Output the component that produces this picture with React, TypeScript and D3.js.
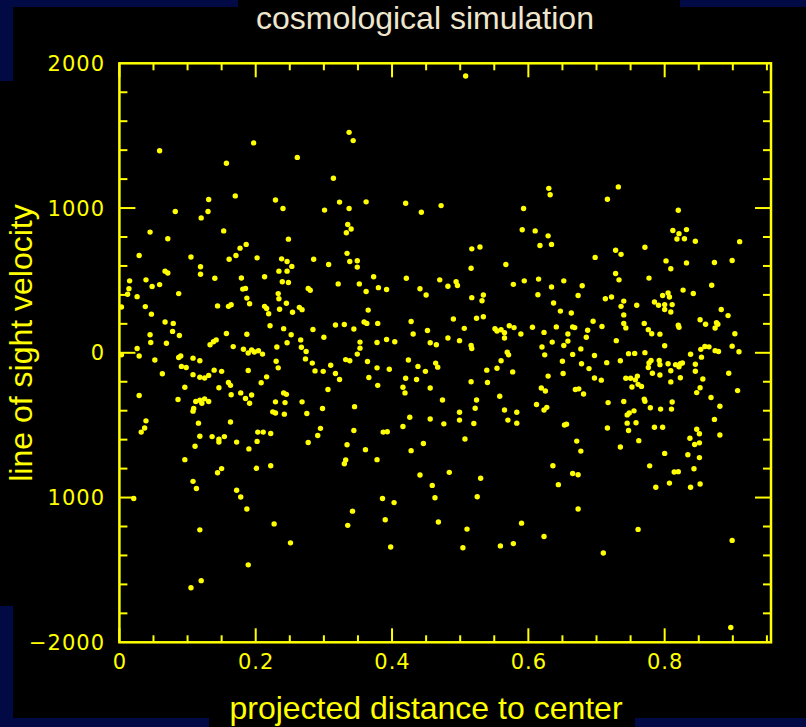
import React from "react";
import * as d3 from "d3";

// ---- data (projected distance, line-of-sight velocity) ----
const band1: [number, number][] = [
  [0.059,1396],[0.157,1309],[0.170,1084],[0.131,1059],[0.082,976],[0.130,976],[0.120,932],[0.045,834],[0.153,842],[0.071,788],
  [0.186,749],[0.177,723],[0.029,672],[0.105,662],[0.161,646],[0.171,672],[0.119,594],[0.067,564],[0.071,551],[0.119,543],
  [0.015,497],[0.039,504],[0.140,515],[0.179,517],[0.059,471],[0.048,458],[0.014,442],[0.181,440],[0.185,445],[0.012,404],
  [0.087,409],[0.026,388],[0.187,378],[0.003,316],[0.038,319],[0.144,324],[0.160,321],[0.164,332],[0.191,339],[0.047,267],
  [0.067,213],[0.079,203],[0.078,148],[0.045,125],[0.088,120],[0.157,133],[0.187,128],[0.046,71],[0.069,66],[0.133,56],
  [0.138,76],[0.142,89],[0.026,30],[0.167,43],[0.182,25],[0.189,-1],[0.003,-14],[0.029,-22],[0.087,-32],[0.090,-22],
  [0.108,-37],[0.118,-55],[0.052,-50],[0.091,-94],[0.098,-102],[0.063,-145],[0.108,-151],[0.118,-169],[0.125,-174],[0.131,-156],
  [0.139,-120],[0.150,-128],[0.189,-122],[0.160,-205],[0.163,-225],[0.146,-241],[0.096,-238],[0.029,-295],[0.086,-323],[0.164,-290],
  [0.178,-277],[0.185,-316],[0.191,-349],[0.112,-336],[0.118,-328],[0.125,-318],[0.121,-349],[0.131,-336],[0.109,-385],[0.108,-403],
  [0.039,-470],[0.037,-519],[0.032,-548],[0.116,-486],[0.163,-478],[0.118,-576],[0.136,-579],[0.146,-597],[0.154,-579],[0.146,-617],
  [0.172,-617],[0.190,-664],[0.111,-646],[0.096,-738],[0.150,-800],[0.144,-829],[0.108,-888],[0.113,-937],[0.172,-950],[0.178,-996],
  [0.021,-1007],[0.187,-1079],[0.118,-1223],[0.189,-1465],[0.120,-1574],[0.105,-1623],
];

const band2: [number, number][] = [
  [0.197,1450],[0.261,1350],[0.337,1523],[0.343,1466],[0.314,1206],[0.229,1056],[0.240,997],[0.323,1041],[0.362,1043],[0.301,986],
  [0.337,997],[0.335,886],[0.340,855],[0.333,829],[0.248,785],[0.202,656],[0.238,649],[0.246,631],[0.253,597],[0.285,646],
  [0.307,610],[0.334,687],[0.338,631],[0.349,636],[0.349,592],[0.213,525],[0.234,564],[0.246,564],[0.373,525],[0.239,491],
  [0.248,486],[0.321,476],[0.352,476],[0.277,445],[0.280,432],[0.362,424],[0.233,409],[0.380,450],[0.234,373],[0.245,342],
  [0.213,321],[0.216,306],[0.219,270],[0.235,301],[0.254,280],[0.264,314],[0.268,298],[0.365,295],[0.221,187],[0.241,167],
  [0.284,161],[0.317,192],[0.330,195],[0.344,164],[0.359,213],[0.363,203],[0.379,203],[0.252,125],[0.266,89],[0.300,107],
  [0.246,69],[0.353,74],[0.378,71],[0.231,40],[0.267,38],[0.274,9],[0.353,32],[0.194,20],[0.204,14],[0.210,-9],
  [0.198,6],[0.349,-9],[0.273,-42],[0.283,-71],[0.310,-86],[0.332,-47],[0.338,-55],[0.364,-60],[0.230,-58],[0.233,-104],
  [0.287,-125],[0.299,-128],[0.317,-143],[0.323,-184],[0.378,-104],[0.216,-166],[0.208,-207],[0.366,-171],[0.306,-254],[0.379,-225],
  [0.194,-292],[0.241,-277],[0.245,-287],[0.229,-339],[0.243,-344],[0.268,-339],[0.225,-408],[0.229,-416],[0.242,-424],[0.275,-419],
  [0.298,-385],[0.345,-372],[0.203,-548],[0.211,-548],[0.222,-558],[0.295,-522],[0.291,-571],[0.344,-537],[0.202,-612],[0.277,-620],
  [0.334,-635],[0.361,-669],[0.378,-738],[0.201,-798],[0.222,-780],[0.332,-741],[0.330,-767],[0.342,-1094],[0.335,-1192],[0.227,-1182],
  [0.251,-1313],
];

const band3: [number, number][] = [
  [0.508,1912],[0.420,1033],[0.443,971],[0.472,1017],[0.517,718],[0.529,731],[0.516,584],[0.567,610],[0.421,515],[0.441,442],
  [0.392,437],[0.450,399],[0.470,504],[0.482,460],[0.494,491],[0.496,465],[0.517,381],[0.534,399],[0.532,360],[0.428,216],
  [0.490,234],[0.524,239],[0.534,249],[0.452,154],[0.431,130],[0.506,169],[0.551,166],[0.554,151],[0.560,159],[0.565,102],
  [0.565,138],[0.572,187],[0.392,92],[0.404,76],[0.456,69],[0.465,56],[0.482,102],[0.499,84],[0.516,51],[0.517,30],
  [0.569,4],[0.571,-14],[0.560,-55],[0.396,-114],[0.424,-50],[0.438,-94],[0.449,-128],[0.464,-71],[0.467,-99],[0.420,-176],
  [0.436,-184],[0.539,-120],[0.554,-107],[0.516,-200],[0.540,-205],[0.416,-238],[0.419,-277],[0.456,-243],[0.474,-326],[0.558,-300],
  [0.524,-326],[0.522,-383],[0.565,-395],[0.499,-411],[0.499,-465],[0.426,-445],[0.456,-457],[0.476,-491],[0.520,-488],[0.570,-465],
  [0.416,-509],[0.387,-548],[0.393,-545],[0.446,-627],[0.428,-676],[0.507,-596],[0.441,-844],[0.484,-826],[0.459,-916],[0.530,-867],
  [0.386,-1007],[0.403,-1035],[0.463,-1001],[0.525,-994],[0.390,-1153],[0.468,-1169],[0.510,-1218],[0.398,-1342],[0.504,-1347],[0.559,-1334],
];

const band4: [number, number][] = [
  [0.630,1136],[0.632,1092],[0.732,1146],[0.716,1061],[0.593,997],[0.591,850],[0.610,842],[0.629,808],[0.617,741],[0.634,749],
  [0.728,708],[0.736,680],[0.698,659],[0.578,473],[0.594,497],[0.615,509],[0.634,455],[0.652,497],[0.679,463],[0.728,548],
  [0.733,504],[0.614,401],[0.673,396],[0.713,373],[0.722,386],[0.740,357],[0.736,321],[0.759,329],[0.637,344],[0.647,288],
  [0.663,275],[0.740,262],[0.579,174],[0.589,130],[0.606,177],[0.623,141],[0.641,179],[0.658,130],[0.665,179],[0.668,174],
  [0.695,218],[0.708,182],[0.687,156],[0.685,107],[0.740,203],[0.743,172],[0.729,84],[0.635,74],[0.658,81],[0.620,40],
  [0.652,50],[0.677,27],[0.624,-14],[0.665,-11],[0.697,-19],[0.747,-6],[0.756,-4],[0.650,-58],[0.678,-76],[0.715,-68],
  [0.735,-55],[0.689,-109],[0.577,-132],[0.629,-161],[0.651,-143],[0.697,-174],[0.707,-189],[0.743,-176],[0.750,-176],[0.760,-161],
  [0.757,-187],[0.752,-236],[0.761,-218],[0.619,-243],[0.625,-264],[0.669,-254],[0.674,-249],[0.681,-285],[0.612,-357],[0.623,-395],
  [0.627,-377],[0.717,-344],[0.740,-336],[0.755,-401],[0.745,-429],[0.748,-416],[0.583,-411],[0.583,-486],[0.653,-499],[0.656,-493],
  [0.716,-519],[0.745,-486],[0.747,-537],[0.758,-483],[0.762,-607],[0.671,-610],[0.677,-679],[0.735,-651],[0.636,-780],[0.665,-834],
  [0.673,-842],[0.644,-911],[0.673,-1079],[0.590,-1177],[0.623,-1269],[0.578,-1318],[0.710,-1383],[0.761,-1220],
];

const band5: [number, number][] = [
  [0.820,985],[0.812,845],[0.821,823],[0.832,851],[0.818,786],[0.829,788],[0.845,771],[0.910,768],[0.771,729],[0.802,635],
  [0.809,581],[0.832,621],[0.873,624],[0.899,638],[0.777,516],[0.869,467],[0.827,433],[0.842,410],[0.797,396],[0.805,413],
  [0.807,385],[0.785,351],[0.791,328],[0.800,333],[0.811,333],[0.800,299],[0.809,282],[0.883,299],[0.893,257],[0.770,203],
  [0.776,160],[0.781,132],[0.793,129],[0.820,191],[0.821,177],[0.852,228],[0.860,197],[0.876,208],[0.878,197],[0.874,171],
  [0.903,132],[0.800,49],[0.771,1],[0.838,-10],[0.854,-30],[0.853,24],[0.859,44],[0.865,41],[0.874,15],[0.879,9],
  [0.899,46],[0.909,7],[0.780,-53],[0.777,-70],[0.776,-102],[0.792,-53],[0.793,-82],[0.805,-76],[0.816,-82],[0.823,-76],
  [0.826,-70],[0.821,-96],[0.845,-79],[0.845,-127],[0.809,-124],[0.782,-141],[0.793,-153],[0.823,-172],[0.856,-181],[0.894,-141],
  [0.766,-232],[0.809,-201],[0.852,-241],[0.847,-275],[0.907,-261],[0.770,-320],[0.771,-335],[0.811,-340],[0.868,-309],[0.881,-369],
  [0.779,-380],[0.794,-389],[0.810,-389],[0.873,-460],[0.785,-514],[0.797,-514],[0.847,-528],[0.851,-559],[0.837,-590],[0.881,-568],
  [0.844,-633],[0.851,-622],[0.800,-695],[0.834,-704],[0.851,-724],[0.778,-781],[0.843,-801],[0.814,-824],[0.820,-821],[0.787,-929],
  [0.807,-900],[0.838,-929],[0.852,-906],[0.899,-1296],[0.897,-1898],
];

const xTickValues = [0, 0.2, 0.4, 0.6, 0.8];
const xTickLabels = ["0", "0.2", "0.4", "0.6", "0.8"];
const yTickValues = [-2000, -1000, 0, 1000, 2000];
const yTickLabels = ["\u22122000", "1000", "0", "1000", "2000"];

const title = "cosmological simulation";
const xLabel = "projected distance to center";
const yLabel = "line of sight velocity";

const W = 806;
const H = 727;
const YELLOW = "#FFFF00";
const NAVY = "#020A45";

export default function App() {
  const x = d3.scaleLinear().domain([0, 0.956]).range([119.4, 771]);
  const y = d3.scaleLinear().domain([-2000, 2000]).range([642.3, 63.3]);
  const points = [...band1, ...band2, ...band3, ...band4, ...band5];

  const x0 = x(0), x1 = x(0.956), y0 = y(-2000), y1 = y(2000);

  const xTicks = d3.range(0, 20).map((i) => ({ v: i * 0.05, major: i % 4 === 0 }));
  const yTicks = d3.range(-9, 10).map((i) => ({ v: i * 200, major: i % 5 === 0 }));

  const tickFont = { fontFamily: "'DejaVu Sans', sans-serif", fontSize: 21, letterSpacing: 1 };

  return (
    <div style={{ position: "fixed", left: 0, top: 0, width: W, height: H }}>
      <svg width={W} height={H} style={{ display: "block" }}>
        <rect x={0} y={0} width={W} height={H} fill="#000" />
        {/* navy corners */}
        <rect x={0} y={0} width={238} height={7} fill={NAVY} />
        <rect x={0} y={0} width={13} height={81} fill={NAVY} />
        <rect x={680} y={0} width={126} height={7} fill={NAVY} />
        <rect x={0} y={606} width={13} height={121} fill={NAVY} />
        <rect x={0} y={718} width={209} height={9} fill={NAVY} />
        <rect x={635} y={718} width={171} height={9} fill={NAVY} />

        <text x={425} y={29} textAnchor="middle" fill="#EFE6CE"
          style={{ fontFamily: "'Liberation Sans', Arial, sans-serif", fontSize: 32 }}>{title}</text>

        {/* points */}
        {points.map((p, i) => (
          <circle key={i} cx={x(p[0])} cy={y(p[1])} r={2.7} fill={YELLOW} />
        ))}

        {/* frame */}
        <rect x={x0} y={y1} width={x1 - x0} height={y0 - y1} fill="none" stroke={YELLOW} strokeWidth={2.5} />

        {/* x ticks, bottom and top */}
        {xTicks.map((t, i) => {
          const len = t.major ? 14 : 7;
          const px = x(t.v);
          return (
            <g key={"xt" + i}>
              <line x1={px} x2={px} y1={y0} y2={y0 - len} stroke={YELLOW} strokeWidth={2} />
              <line x1={px} x2={px} y1={y1} y2={y1 + len} stroke={YELLOW} strokeWidth={2} />
            </g>
          );
        })}
        {/* y ticks, left and right */}
        {yTicks.map((t, i) => {
          const len = t.major ? 16 : 8;
          const py = y(t.v);
          return (
            <g key={"yt" + i}>
              <line x1={x0} x2={x0 + len} y1={py} y2={py} stroke={YELLOW} strokeWidth={2} />
              <line x1={x1} x2={x1 - len} y1={py} y2={py} stroke={YELLOW} strokeWidth={2} />
            </g>
          );
        })}

        {/* tick labels */}
        {xTickValues.map((v, i) => (
          <text key={"xl" + i} x={x(v) + 0.5} y={669} textAnchor="middle" fill={YELLOW} style={tickFont}>
            {xTickLabels[i]}
          </text>
        ))}
        {yTickValues.map((v, i) => (
          <text key={"yl" + i} x={105} y={y(v) + 7.5} textAnchor="end" fill={YELLOW} style={tickFont}>
            {yTickLabels[i]}
          </text>
        ))}

        {/* axis labels */}
        <text x={426} y={719} textAnchor="middle" fill={YELLOW}
          style={{ fontFamily: "'Liberation Sans', Arial, sans-serif", fontSize: 32 }}>{xLabel}</text>
        <text transform="translate(32,343) rotate(-90)" textAnchor="middle" fill={YELLOW}
          style={{ fontFamily: "'Liberation Sans', Arial, sans-serif", fontSize: 32 }}>{yLabel}</text>
      </svg>
    </div>
  );
}
